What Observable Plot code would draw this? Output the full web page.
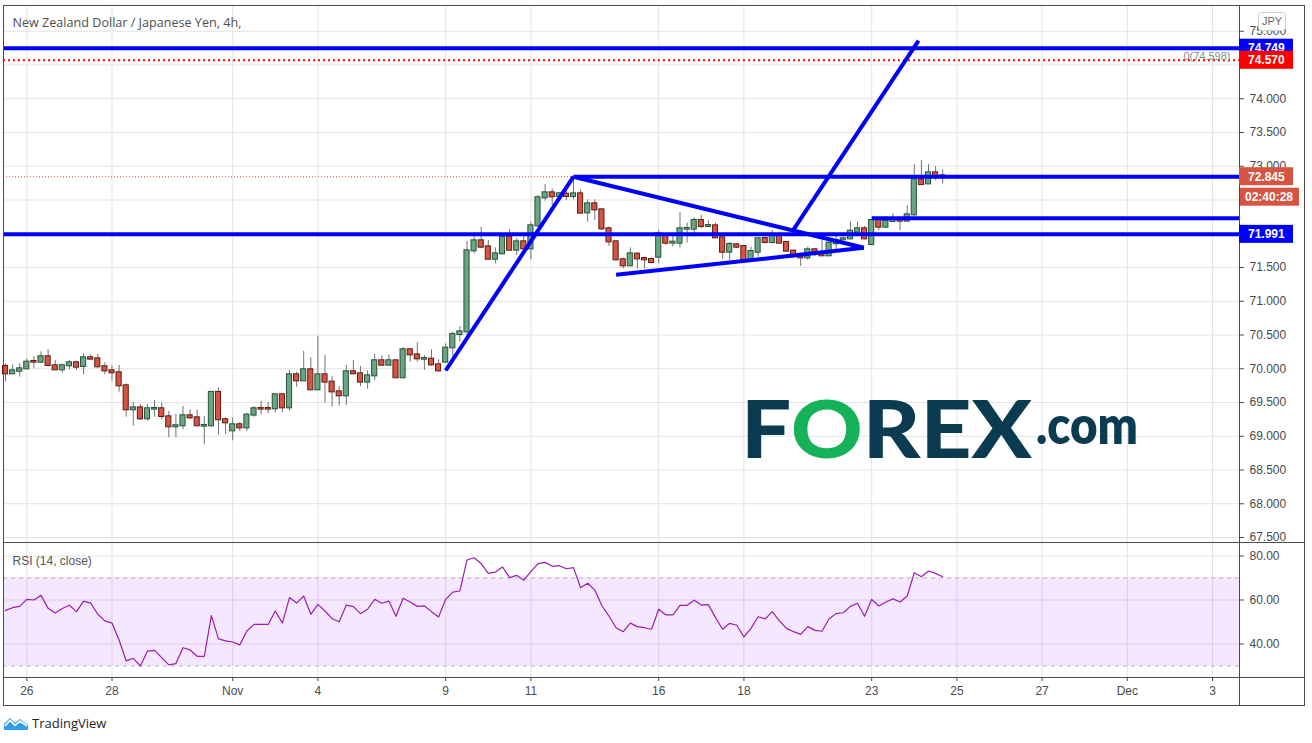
<!DOCTYPE html>
<html><head><meta charset="utf-8">
<script src="https://cdn.jsdelivr.net/npm/d3@7"></script>
<script src="https://cdn.jsdelivr.net/npm/@observablehq/plot@0.6"></script>
<style>
body{margin:0;background:#fff;}
#wrap{position:relative;width:1312px;height:743px;overflow:hidden;background:#fff;font-family:"Liberation Sans",Arial,sans-serif;}
#wrap > *{position:absolute;}
</style></head><body><div id="wrap"></div>
<script>
// ---------- data ----------
const title = "New Zealand Dollar / Japanese Yen, 4h,";
const xTicks = [3, 15, 32, 44, 62, 74, 92, 104, 122, 134, 146, 158, 170]; // 4h-bar index of each date tick
const xTickLabels = ["26","28","Nov","4","9","11","16","18","23","25","27","Dec","3"];
const priceTicks = [67.5,68,68.5,69,69.5,70,70.5,71,71.5,72,72.5,73,73.5,74,74.5,75];
const priceLabelTicks = [67.5,68,68.5,69,69.5,70,70.5,71,71.5,73,73.5,74,75]; // the others sit under label boxes
const rsiTicks = [40, 60, 80];

const opens = [70.034,69.925,69.964,69.999,70.108,70.098,70.177,70.044,69.984,70.044,
70.088,70.034,70.162,70.147,70.029,69.969,69.940,69.747,69.392,69.421,
69.258,69.402,69.407,69.288,69.140,69.155,69.303,69.273,69.150,69.155,
69.649,69.244,69.081,69.170,69.125,69.313,69.411,69.411,69.407,69.614,
69.421,69.910,69.821,69.984,69.688,69.910,69.802,69.658,69.599,69.955,
69.925,69.802,69.895,70.118,70.053,70.118,69.866,70.281,70.206,70.142,
70.142,70.058,70.098,70.310,70.507,70.547,71.747,71.895,71.806,71.623,
71.702,71.949,71.757,71.880,71.776,72.117,72.532,72.606,72.552,72.586,
72.552,72.591,72.310,72.443,72.354,72.073,71.880,71.614,71.525,71.697,
71.633,71.619,71.653,71.989,71.861,71.861,72.068,72.068,72.196,72.108,
72.117,71.940,71.727,71.836,71.811,71.614,71.727,71.930,71.870,71.974,
71.870,71.742,71.693,71.643,71.762,71.693,71.673,71.851,71.910,71.925,
72.024,72.073,71.841,72.196,72.098,72.182,72.206,72.187,72.280,72.798,
72.739,72.902,72.858];
const highs = [70.073,70.058,70.073,70.147,70.182,70.251,70.281,70.123,70.073,70.123,
70.113,70.221,70.206,70.211,70.088,70.044,70.049,69.777,69.500,69.471,
69.471,69.530,69.491,69.367,69.323,69.441,69.392,69.392,69.293,69.663,
69.718,69.273,69.273,69.204,69.342,69.441,69.520,69.500,69.614,69.620,
69.974,69.950,70.256,70.162,70.483,70.202,69.886,69.737,70.049,70.123,
70.034,69.969,70.211,70.192,70.202,70.123,70.315,70.290,70.384,70.197,
70.281,70.132,70.369,70.542,70.626,71.885,71.959,72.097,71.900,71.791,
71.959,72.063,71.929,71.959,72.171,72.566,72.729,72.665,72.611,72.641,
72.789,72.650,72.502,72.502,72.369,72.097,71.900,71.643,71.791,71.722,
71.653,71.638,72.048,71.999,71.989,72.315,72.157,72.236,72.275,72.196,
72.157,71.950,71.875,71.851,71.821,71.801,71.940,71.950,72.048,72.024,
71.885,71.762,71.712,71.801,71.782,71.900,71.890,71.959,71.950,72.172,
72.172,72.108,72.206,72.236,72.256,72.295,72.221,72.419,73.026,73.085,
73.026,72.996,72.947];
const lows = [69.802,69.920,69.876,69.990,69.999,70.083,70.024,69.974,69.935,69.984,
69.974,69.910,70.132,70.009,69.910,69.816,69.653,69.283,69.150,69.234,
69.224,69.283,69.244,68.977,68.977,69.095,69.244,69.150,68.873,69.135,
69.021,69.026,68.932,69.071,69.071,69.283,69.318,69.332,69.347,69.347,
69.372,69.728,69.816,69.680,69.680,69.491,69.431,69.446,69.451,69.910,
69.737,69.698,69.826,70.034,70.034,69.860,69.860,70.098,70.098,69.974,
70.034,69.950,70.088,70.172,70.394,70.492,71.702,71.776,71.604,71.554,
71.692,71.742,71.678,71.762,71.614,72.087,72.483,72.418,72.502,72.492,
72.502,72.295,72.171,72.196,72.048,71.811,71.594,71.480,71.515,71.480,
71.480,71.554,71.554,71.826,71.801,71.791,71.861,71.950,72.073,72.098,
71.925,71.624,71.604,71.777,71.594,71.594,71.653,71.851,71.851,71.851,
71.727,71.629,71.515,71.604,71.663,71.663,71.663,71.762,71.900,71.910,
72.024,71.910,71.826,72.048,72.073,72.172,72.048,72.172,72.255,72.714,
72.729,72.789,72.739];
const closes = [69.925,69.969,69.999,70.098,70.098,70.177,70.049,69.984,70.044,70.088,
70.024,70.162,70.142,70.029,69.969,69.940,69.747,69.392,69.421,69.258,
69.407,69.411,69.293,69.140,69.155,69.303,69.273,69.155,69.160,69.649,
69.244,69.199,69.170,69.125,69.313,69.407,69.402,69.402,69.614,69.421,
69.910,69.821,69.984,69.688,69.910,69.802,69.658,69.599,69.955,69.925,
69.802,69.895,70.118,70.053,70.118,69.866,70.281,70.206,70.147,70.152,
70.058,69.969,70.305,70.507,70.547,71.747,71.895,71.801,71.623,71.702,
71.949,71.757,71.880,71.776,72.117,72.532,72.606,72.547,72.591,72.552,
72.591,72.305,72.443,72.354,72.073,71.880,71.614,71.525,71.702,71.628,
71.614,71.574,71.999,71.861,71.875,72.073,72.078,72.196,72.108,72.122,
71.940,71.727,71.841,71.801,71.614,71.737,71.925,71.870,71.959,71.861,
71.742,71.693,71.643,71.762,71.693,71.673,71.861,71.900,71.925,72.038,
72.073,71.925,72.196,72.098,72.182,72.206,72.187,72.280,72.798,72.729,
72.902,72.858,72.845];
const rsiValues = [55.3,56.5,57.1,60.3,60.0,62.1,56.2,54.1,56.1,57.6,
54.7,59.5,58.6,53.5,50.5,49.5,41.8,32.3,33.5,30.0,
36.8,37.1,33.8,30.5,31.1,38.3,37.3,34.4,34.4,52.9,
42.3,41.4,40.9,39.6,45.9,48.9,48.9,48.9,55.0,49.5,
61.1,58.6,61.8,53.5,58.0,55.0,51.5,50.1,57.7,57.0,
53.8,55.8,60.3,58.5,59.5,52.6,60.8,59.1,57.1,57.3,
54.7,52.3,60.3,63.6,64.1,78.2,79.2,76.5,72.1,72.7,
75.0,70.2,71.2,69.0,72.9,76.5,77.1,75.3,75.6,74.2,
74.7,65.6,67.6,64.5,57.4,52.7,47.4,45.6,49.5,47.9,
47.4,46.7,55.8,53.2,53.2,57.6,57.6,59.9,57.7,57.9,
52.0,46.7,49.4,48.5,43.2,47.1,52.4,51.4,54.7,50.5,
47.1,45.6,44.4,47.9,46.2,45.8,51.5,53.8,54.2,57.1,
58.5,52.6,60.3,57.3,59.1,60.5,59.1,61.8,72.4,70.6,
73.2,72.1,70.6];

// drawn levels & trendlines (bar index, price)
const xDomain = [-0.2817, 173.803];
const fullLevels = [74.749, 71.991];
const dottedLevel = [74.570];
const lastPrice = 72.845;
const fibText = "0(74.598)";
const fibLevel = 74.598;
const segX1 = [62, 80, 86, 110.8, 80, 122];
const segY1 = [69.974, 72.845, 71.392, 72.03, 72.845, 72.23];
const segX2 = [80, 120.9, 120.9, 128.6, xDomain[1], xDomain[1]];
const segY2 = [72.845, 71.792, 71.792, 74.86, 72.845, 72.23];
const axisBoxes = [
  {v: 74.749, t: "74.749", c: "#0000ff"},
  {v: 74.570, t: "74.570", c: "#ff0000"},
  {v: 72.845, t: "72.845", c: "#d75442"},
  {v: 71.991, t: "71.991", c: "#0000ff"}
];
const countdown = "02:40:28";
const rsiLabel = "RSI (14, close)";

// ---------- build ----------
const bars = opens.map((o, i) => ({i, o, h: highs[i], l: lows[i], c: closes[i], up: closes[i] >= o}));
const segs = segX1.map((x, k) => ({x1: x, y1: segY1[k], x2: segX2[k], y2: segY2[k]}));
const rsi = rsiValues.map((r, i) => ({i, r}));
const font = '"Liberation Sans", Arial, sans-serif';
const axisColor = "#4a4a4a";
const gridColor = "#e3e3e3";
const wrap = document.getElementById("wrap");

const price = Plot.plot({
  width: 1312, height: 542,
  marginLeft: 3, marginRight: 73, marginTop: 5, marginBottom: 0,
  x: {domain: xDomain, axis: null},
  y: {domain: [67.426, 75.3815], axis: null},
  style: {fontFamily: font, fontSize: "12px", color: axisColor, background: "transparent", overflow: "visible"},
  marks: [
    Plot.gridX(xTicks, {stroke: gridColor, strokeOpacity: 1}),
    Plot.gridY(priceTicks, {stroke: gridColor, strokeOpacity: 1}),
    Plot.axisY(priceTicks, {anchor: "right", tickSize: 4, text: null, label: null}),
    Plot.axisY(priceLabelTicks, {anchor: "right", tickSize: 0, tickPadding: 10, tickFormat: d3.format(".3f"), label: null}),
    Plot.ruleY([lastPrice], {stroke: "#d75442", strokeDasharray: "1,2"}),
    Plot.ruleX(bars, {x: "i", y1: "l", y2: "h", stroke: "#737375"}),
    Plot.rect(bars, {x1: d => d.i - 0.36, x2: d => d.i + 0.36, y1: "o", y2: "c",
      insetTop: -0.5, insetBottom: -0.5,
      fill: d => d.up ? "#6ba583" : "#d75442", stroke: d => d.up ? "#225437" : "#5b1a13", strokeWidth: 1}),
    Plot.ruleY(dottedLevel, {stroke: "#ff0000", strokeWidth: 2, strokeDasharray: "2,3"}),
    Plot.ruleY(fullLevels, {stroke: "#0000ff", strokeWidth: 4}),
    Plot.link(segs, {x1: "x1", y1: "y1", x2: "x2", y2: "y2", stroke: "#0000ff", strokeWidth: 4}),
    Plot.text([fibText], {frameAnchor: "right", y: () => fibLevel, dx: -9, dy: -2, textAnchor: "end", fill: "#8a8a8a", fontSize: 11}),
    Plot.text([title], {frameAnchor: "top-left", dx: 9, dy: 17, textAnchor: "start", lineAnchor: "middle", fontSize: 12.6, fill: "#4f4f4f", fontFamily: '"Open Sans", sans-serif'}),
    Plot.frame({stroke: axisColor})
  ]
});
price.style.left = "0px"; price.style.top = "0px";
wrap.appendChild(price);

// axis label boxes through the price scale
{
  const ys = price.scale("y");
  const xr = 1312 - 73;
  const g = d3.select(price).append("g").attr("font-family", font).attr("font-size", 12).attr("text-anchor", "start");
  axisBoxes.forEach(b => {
    const y = ys.apply(b.v);
    g.append("rect").attr("x", xr).attr("y", y - 9).attr("width", 54).attr("height", 18).attr("fill", b.c);
    g.append("text").attr("x", xr + 9).attr("y", y).attr("dy", "0.36em").attr("fill", "#fff").attr("font-weight", "bold").text(b.t);
    if (b.v === lastPrice) {
      g.append("rect").attr("x", xr + 1).attr("y", y + 11.5).attr("width", 59).attr("height", 18).attr("fill", b.c);
      g.append("text").attr("x", xr + 6).attr("y", y + 20.5).attr("dy", "0.36em").attr("fill", "#fff").attr("font-weight", "bold").text(countdown);
    }
  });
  g.append("rect").attr("x", xr + 19.5).attr("y", 12.5).attr("width", 27).attr("height", 18).attr("rx", 3)
    .attr("fill", "#fff").attr("stroke", "#cfcfcf");
  g.append("text").attr("x", xr + 33).attr("y", 21.5).attr("dy", "0.36em").attr("text-anchor", "middle")
    .attr("fill", "#6a6a6a").attr("font-size", 11).text("JPY");
}

const rsiPlot = Plot.plot({
  width: 1312, height: 164,
  marginLeft: 3, marginRight: 73, marginTop: 0, marginBottom: 29,
  x: {domain: xDomain, axis: null},
  y: {domain: [24.77, 86.136], axis: null},
  style: {fontFamily: font, fontSize: "12px", color: axisColor, background: "transparent", overflow: "visible"},
  marks: [
    Plot.gridX(xTicks, {stroke: gridColor, strokeOpacity: 1}),
    Plot.gridY(rsiTicks, {stroke: gridColor, strokeOpacity: 1}),
    Plot.rect([{lo: 30, hi: 70}], {y1: "lo", y2: "hi", fill: "#9915ff", fillOpacity: 0.1}),
    Plot.ruleY([70, 30], {stroke: "#b4b0b8", strokeDasharray: "4,4"}),
    Plot.line(rsi, {x: "i", y: "r", stroke: "#9a1fae", strokeWidth: 1.2}),
    Plot.axisY(rsiTicks, {anchor: "right", tickSize: 4, tickPadding: 6, tickFormat: d3.format(".2f"), label: null}),
    Plot.axisX(xTicks, {anchor: "bottom", tickSize: 4, tickPadding: 5, tickFormat: d => xTickLabels[xTicks.indexOf(d)], label: null}),
    Plot.text([rsiLabel], {frameAnchor: "top-left", dx: 9, dy: 18.5, textAnchor: "start", lineAnchor: "middle", fontSize: 12, fill: "#555"}),
    Plot.frame({stroke: axisColor})
  ]
});
rsiPlot.style.left = "0px"; rsiPlot.style.top = "542px";
wrap.appendChild(rsiPlot);

// outer frame and separators
function line(l, t, w, h) {
  const d = document.createElement("div");
  Object.assign(d.style, {left: l + "px", top: t + "px", width: w + "px", height: h + "px", background: axisColor});
  wrap.appendChild(d);
}
line(3, 5, 1302, 1); line(3, 705, 1302, 1); line(3, 5, 1, 701); line(1304, 5, 1, 701);
line(3, 542, 1302, 1); line(3, 677, 1302, 1); line(1239, 677, 1, 29);

// FOREX.com watermark
const logo = document.createElementNS("http://www.w3.org/2000/svg", "svg");
logo.setAttribute("width", 1312); logo.setAttribute("height", 743);
logo.style.left = "0px"; logo.style.top = "0px";
logo.innerHTML = `
<text x="741" y="458" font-family="Lato, 'Open Sans', sans-serif" font-weight="900" font-size="80" fill="#0b3b50" textLength="291" lengthAdjust="spacingAndGlyphs">F<tspan fill="#16b25a">O</tspan>REX</text>
<text x="1036" y="444" font-family="Lato, 'Open Sans', sans-serif" font-weight="800" font-size="52" fill="#0b3b50" textLength="102" lengthAdjust="spacingAndGlyphs">.com</text>`;
wrap.appendChild(logo);

// TradingView footer
const foot = document.createElement("div");
Object.assign(foot.style, {left: "4px", top: "714px", height: "18px", display: "flex", alignItems: "center", gap: "4px"});
foot.innerHTML = `<svg width="24" height="16" viewBox="0 0 24 16"><path d="M0 15 L0 9 L6 3 L11 8 L16 4 L24 10 L24 15 Z" fill="#2e9def"/><polyline points="1,11 6,5.5 11,10.5 16,6 23,11" fill="none" stroke="#fff" stroke-width="1.6"/></svg><span style="font-family:'Open Sans',sans-serif;font-size:13px;color:#1e1e1e">TradingView</span>`;
wrap.appendChild(foot);
</script></body></html>
